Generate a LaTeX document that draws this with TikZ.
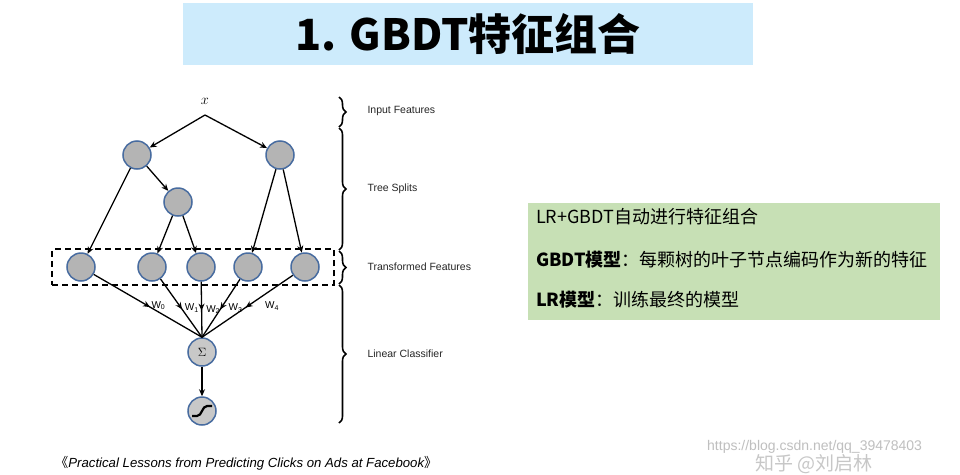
\documentclass[tikz,border=0pt]{standalone}
\usepackage{fontspec}
\setmainfont{Liberation Sans}
\newfontfamily\cjk{Noto Sans CJK SC}
\usepackage{tikz}
\usetikzlibrary{arrows.meta, positioning, fit, decorations.pathreplacing, decorations.markings}
\definecolor{titleblue}{RGB}{205,235,252}
\definecolor{notegreen}{RGB}{199,224,181}
\definecolor{nodeblue}{RGB}{72,108,160}
\definecolor{nodegray}{RGB}{180,180,180}
\definecolor{sumgray}{RGB}{200,200,200}
\tikzset{
    titlebox/.style={rectangle, fill=titleblue, minimum width=570pt, minimum height=62pt, font=\cjk\bfseries\fontsize{43}{48}\selectfont},
    notebox/.style={rectangle, fill=notegreen, minimum width=412pt, minimum height=117pt, anchor=north west},
    noteline/.style={anchor=west, inner sep=0pt, font=\cjk\fontsize{18}{22}\selectfont},
    treenode/.style={circle, draw=nodeblue, fill=nodegray, line width=1.5pt, minimum size=28pt, inner sep=0pt},
    featbox/.style={draw, dashed, dash pattern=on 6pt off 4pt, line width=1.6pt, inner xsep=14pt, inner ysep=3pt},
    arrow/.style={line width=1.3pt, -{Stealth[length=7pt, width=6pt]}},
    weight/.style={line width=1.3pt, postaction={decorate}, decoration={markings, mark=at position 0.52 with {\arrow{Stealth[length=7pt, width=6pt]}}}},
    wlabel/.style={inner sep=1pt, font=\fontsize{10}{11}\selectfont},
    layerbrace/.style={decorate, decoration={brace, amplitude=7pt}, line width=1.6pt},
    layerlabel/.style={anchor=west, font=\fontsize{10.5}{12}\selectfont, text=black!85}
}

\begin{document}
\begin{tikzpicture}[x=1pt, y=-1pt]
    \fill[white] (0,0) rectangle (960,474);
    \useasboundingbox (0,0) rectangle (960,474);

    % Title
    \node[titlebox] (title) at (468,34) {1. GBDT特征组合};

    % Note box
    \node[notebox] (note) at (528,203) {};
    \node[noteline] (line1) at (536,217) {LR+GBDT自动进行特征组合};
    \node[noteline] (line2) at (536,260) {\textbf{GBDT模型}：每颗树的叶子节点编码作为新的特征};
    \node[noteline] (line3) at (536,300) {\textbf{LR模型}：训练最终的模型};

    % Trees
    \node[font=\rmfamily\fontsize{14}{14}\selectfont] (xin) at (205,101) {$x$};
    \coordinate (split) at (205,115);
    \node[treenode] (t1) at (137,155) {};
    \node[treenode] (t2) at (280,155) {};
    \node[treenode] (t3) at (178,202) {};
    \node[treenode] (l1) at (81,267) {};
    \node[treenode] (l2) at (152,267) {};
    \node[treenode] (l3) at (201,267) {};
    \node[treenode] (l4) at (248,267) {};
    \node[treenode] (l5) at (305,267) {};
    \node[featbox, fit=(l1)(l5)] (feat) {};

    % Classifier
    \node[treenode, fill=sumgray, font=\rmfamily\fontsize{12}{12}\selectfont] (sum) at (202,352) {$\Sigma$};
    \node[treenode, fill=sumgray] (sig) at (202,411) {};
    \draw[line width=2.2pt, shift={(sig.center)}] (-10,5) -- (-5,5) .. controls (0,5) and (0,-5) .. (5,-5) -- (10,-5);

    % Connections
    \draw[arrow] (split) -- (t1);
    \draw[arrow] (split) -- (t2);
    \draw[arrow] (t1) -- (t3);
    \draw[arrow] (t1) -- (l1);
    \draw[arrow] (t3) -- (l2);
    \draw[arrow] (t3) -- (l3);
    \draw[arrow] (t2) -- (l4);
    \draw[arrow] (t2) -- (l5);
    \foreach \l/\w/\dx in {l1/0/2, l2/1/2, l3/2/3, l4/3/6, l5/4/16}
        \draw[weight] (\l) -- (sum.north) node[wlabel, pos=0.5, anchor=west, xshift=\dx] {W\textsubscript{\w}};
    \draw[arrow] (sum) -- (sig);

    % Layer braces
    \draw[layerbrace] (339,97) -- (339,127);
    \draw[layerbrace] (339,128) -- (339,250);
    \draw[layerbrace] (339,251) -- (339,284);
    \draw[layerbrace] (339,285) -- (339,423);
    \node[layerlabel] (inlab) at (364,111) {Input Features};
    \node[layerlabel] (splitlab) at (364,189) {Tree Splits};
    \node[layerlabel] (translab) at (364,267) {Transformed Features};
    \node[layerlabel] (linlab) at (364,354) {Linear Classifier};

    % Source and watermark
    \node[anchor=west, inner sep=0pt, font=\itshape\fontsize{13.2}{15}\selectfont] (src) at (55,463) {{\cjk 《}Practical Lessons from Predicting Clicks on Ads at Facebook{\cjk 》}};
    \node[anchor=west, inner sep=0pt, text=black!25, font=\fontsize{14}{16}\selectfont] (url) at (707,447) {https://blog.csdn.net/qq\_39478403};
    \node[anchor=west, inner sep=0pt, text=black!22, font=\cjk\fontsize{19}{21}\selectfont] (zhihu) at (755,464) {知乎 @刘启林};
\end{tikzpicture}
\end{document}
